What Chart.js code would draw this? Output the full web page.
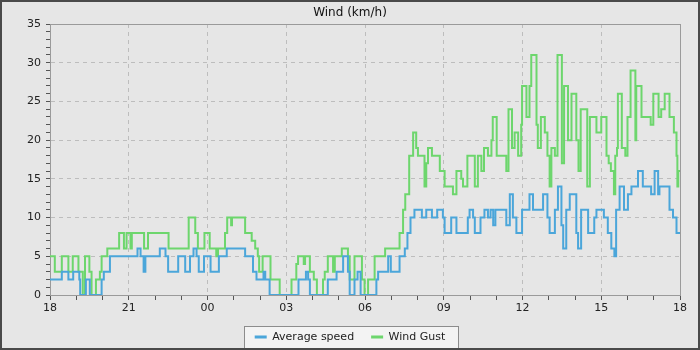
<!DOCTYPE html>
<html>
<head>
<meta charset="utf-8">
<script src="https://cdn.jsdelivr.net/npm/chart.js@4"></script>
<style>
    html, body { margin: 0; padding: 0; background: #e6e6e6; }
    #wrap { width: 700px; height: 350px; }
</style>
</head>
<body>
<div id="wrap"><canvas id="windChart" width="700" height="350"></canvas></div>
<script>
// ============================================================
// Wind (km/h) — last 24 h, minutes since 18:00
// ============================================================

const hourLabels = ['18', '21', '00', '03', '06', '09', '12', '15', '18'];

// Average speed: step changes (minute, km/h)
const avgTimes = [0, 27, 42, 53, 67, 69, 82, 91, 118, 123, 137, 200, 207, 214, 218, 251, 264, 270, 293, 309,
    320, 328, 335, 340, 352, 367, 386, 404, 446, 464, 472, 488, 492, 502, 568, 585, 590, 594, 635, 655,
    670, 681, 685, 696, 703, 710, 746, 750, 773, 779, 799, 811, 817, 824, 833, 850, 860, 873, 885, 898,
    902, 917, 929, 955, 959, 967, 971, 984, 993, 1001, 1007, 1013, 1018, 1024, 1043, 1051, 1058, 1066, 1079, 1096,
    1104, 1127, 1137, 1142, 1154, 1161, 1169, 1173, 1180, 1188, 1203, 1207, 1214, 1222, 1230, 1244, 1249, 1266, 1275, 1283,
    1290, 1294, 1302, 1312, 1321, 1329, 1344, 1355, 1374, 1382, 1390, 1393, 1416, 1424, 1432, 1440];
const avgSpeed = [2, 3, 2, 3, 2, 0, 2, 0, 2, 3, 5, 6, 5, 3, 5, 6, 5, 3, 5, 3,
    5, 6, 5, 3, 5, 3, 5, 6, 5, 3, 2, 3, 2, 0, 2, 3, 2, 0, 2, 3,
    5, 3, 0, 2, 3, 0, 2, 3, 5, 3, 5, 6, 8, 10, 11, 10, 11, 10, 11, 10,
    8, 10, 8, 10, 11, 10, 8, 10, 11, 10, 11, 9, 11, 11, 9, 13, 10, 8, 11, 13,
    11, 13, 10, 8, 11, 14, 9, 6, 11, 13, 8, 6, 11, 11, 8, 10, 11, 10, 8, 6,
    5, 11, 14, 11, 13, 14, 16, 14, 13, 16, 13, 14, 11, 10, 8, 8];

// Wind gust: step changes (minute, km/h)
const gustTimes = [0, 11, 27, 42, 52, 65, 75, 80, 90, 95, 105, 114, 118, 131, 158, 169, 175, 184, 187, 215,
    224, 271, 317, 332, 338, 353, 365, 380, 384, 400, 405, 414, 416, 446, 461, 469, 475, 478, 486, 504,
    525, 552, 563, 567, 580, 583, 594, 603, 610, 624, 628, 635, 647, 651, 667, 681, 685, 696, 713, 719,
    727, 742, 766, 799, 807, 812, 821, 830, 837, 841, 856, 860, 864, 873, 891, 902, 921, 929, 940, 944,
    954, 971, 978, 986, 992, 1001, 1009, 1012, 1021, 1043, 1048, 1056, 1062, 1070, 1077, 1079, 1089, 1096, 1100, 1112,
    1115, 1122, 1131, 1137, 1142, 1146, 1154, 1160, 1170, 1175, 1184, 1192, 1203, 1208, 1213, 1228, 1234, 1249, 1260, 1272,
    1277, 1282, 1289, 1292, 1296, 1298, 1307, 1315, 1320, 1327, 1338, 1340, 1352, 1373, 1379, 1391, 1397, 1405, 1416, 1426,
    1432, 1434, 1436, 1440];
const gustSpeed = [5, 3, 5, 3, 5, 3, 0, 5, 3, 0, 2, 3, 5, 6, 8, 6, 8, 6, 8, 6,
    8, 6, 10, 8, 6, 8, 6, 5, 6, 8, 10, 9, 10, 8, 7, 6, 5, 3, 5, 2,
    0, 2, 4, 5, 4, 5, 3, 2, 0, 2, 3, 5, 3, 5, 6, 5, 2, 5, 2, 0,
    2, 5, 6, 8, 11, 13, 18, 21, 19, 18, 14, 17, 19, 18, 16, 14, 13, 16, 15, 14,
    18, 14, 18, 16, 19, 18, 20, 23, 18, 16, 24, 19, 21, 18, 22, 27, 23, 27, 31, 22,
    19, 23, 21, 18, 14, 19, 18, 31, 17, 27, 20, 26, 20, 16, 24, 14, 23, 21, 23, 18,
    17, 16, 13, 18, 19, 26, 19, 18, 23, 29, 20, 27, 23, 22, 26, 23, 24, 26, 23, 21,
    18, 14, 16, 16];

const BLUE  = '#4ba6da';
const GREEN = '#6dd66d';

const toPoints = (times, vals) => times.map((t, i) => ({ x: t, y: vals[i] }));

// fondo, marco, caja de leyenda y borde del área de gráfico
const framePlugin = {
    id: 'frame',
    beforeDraw(chart) {
        const { ctx, width, height } = chart;
        ctx.save();
        ctx.fillStyle = '#e6e6e6';
        ctx.fillRect(0, 0, width, height);

        const lg = chart.legend;
        if (lg && lg.legendHitBoxes && lg.legendHitBoxes.length) {
            const hb = lg.legendHitBoxes;
            const first = hb[0], last = hb[hb.length - 1];
            const x1 = Math.round(first.left - 11) + 0.5;
            const x2 = Math.round(last.left + last.width + 13) + 0.5;
            const cy = first.top + first.height / 2;
            const y1 = Math.round(cy - 11.5) + 0.5;
            const y2 = height - 1.5;
            ctx.fillStyle = '#f3f3f3';
            ctx.fillRect(x1, y1, x2 - x1, y2 - y1);
            ctx.strokeStyle = '#8c8c8c';
            ctx.lineWidth = 1;
            ctx.strokeRect(x1, y1, x2 - x1, y2 - y1);
        }
        ctx.restore();
    },
    beforeDatasetsDraw(chart) {
        const { ctx, chartArea: a } = chart;
        ctx.save();
        ctx.strokeStyle = '#9a9a9a';
        ctx.lineWidth = 1;
        ctx.strokeRect(Math.round(a.left) + 0.5, Math.round(a.top) + 0.5,
            Math.round(a.right - a.left), Math.round(a.bottom - a.top));
        ctx.restore();
    },
    afterDraw(chart) {
        const { ctx, width, height } = chart;
        ctx.save();
        ctx.strokeStyle = '#4a4a4a';
        ctx.lineWidth = 2;
        ctx.strokeRect(1, 1, width - 2, height - 2);
        ctx.restore();
    }
};

Chart.defaults.font.family = "'DejaVu Sans', sans-serif";
Chart.defaults.font.size = 11;
Chart.defaults.color = '#222';

new Chart(document.getElementById('windChart'), {
    type: 'line',
    data: {
        datasets: [
            {
                label: 'Average speed',
                data: toPoints(avgTimes, avgSpeed),
                borderColor: BLUE,
                backgroundColor: BLUE,
                borderWidth: 2,
                pointRadius: 0,
                stepped: true,
                fill: false
            },
            {
                label: 'Wind Gust',
                data: toPoints(gustTimes, gustSpeed),
                borderColor: GREEN,
                backgroundColor: GREEN,
                borderWidth: 2,
                pointRadius: 0,
                stepped: true,
                fill: false
            }
        ]
    },
    options: {
        responsive: false,
        animation: false,
        events: [],
        layout: { padding: { left: 0, right: 0, top: 0, bottom: -2.5 } },
        plugins: {
            title: {
                display: true,
                text: 'Wind (km/h)',
                color: '#111',
                font: { size: 12, weight: 'normal' },
                padding: { top: 6, bottom: 3.6 }
            },
            legend: {
                position: 'bottom',
                labels: {
                    usePointStyle: true,
                    pointStyle: 'line',
                    pointStyleWidth: 12,
                    padding: 17,
                    color: '#222',
                    font: { size: 11 },
                    generateLabels(chart) {
                        const items = Chart.defaults.plugins.legend.labels.generateLabels(chart);
                        items.forEach(it => { it.lineWidth = 3; });
                        return items;
                    }
                }
            },
            tooltip: { enabled: false }
        },
        scales: {
            x: {
                type: 'linear',
                min: 0,
                max: 1440,
                afterFit(s) { s.height = 19.5; },
                grid: {
                    color: c => (c.tick && c.tick.value % 180 === 0) ? '#bdbdbd' : 'rgba(0,0,0,0)',
                    tickColor: '#555',
                    tickLength: 5,
                    lineWidth: 1
                },
                border: { display: true, color: '#9a9a9a', dash: [4, 4] },
                ticks: {
                    stepSize: 60,
                    autoSkip: false,
                    maxRotation: 0,
                    padding: 2,
                    color: '#222',
                    callback: v => (v % 180 === 0) ? hourLabels[v / 180] : ''
                }
            },
            y: {
                min: 0,
                max: 35,
                afterFit(s) { s.width = 50; },
                grid: {
                    color: c => (c.tick && c.tick.value % 5 === 0) ? '#bdbdbd' : 'rgba(0,0,0,0)',
                    tickColor: '#555',
                    tickLength: 4,
                    lineWidth: 1
                },
                border: { display: true, color: '#9a9a9a', dash: [4, 4] },
                ticks: {
                    stepSize: 1,
                    autoSkip: false,
                    padding: 5,
                    color: '#222',
                    callback: v => (v % 5 === 0) ? String(v) : ''
                }
            },
            yRight: {
                position: 'right',
                display: true,
                grid: { display: false, drawTicks: false },
                border: { display: false },
                ticks: { display: false },
                afterFit(s) { s.width = 20; }
            }
        }
    },
    plugins: [framePlugin]
});
</script>
</body>
</html>
